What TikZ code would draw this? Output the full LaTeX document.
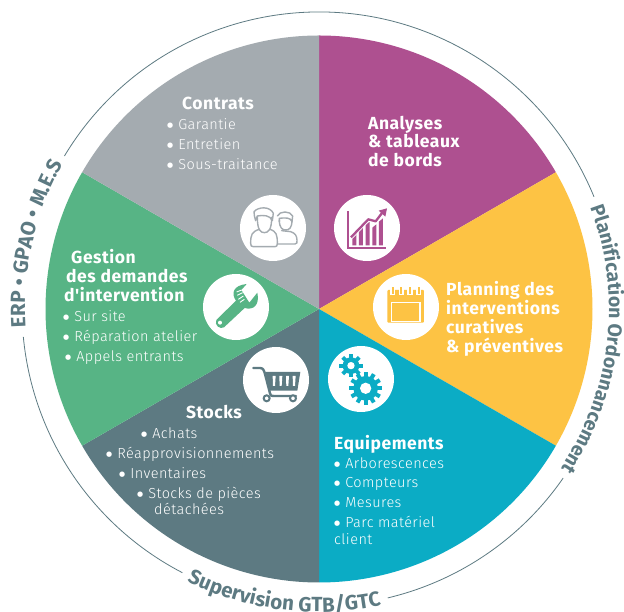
\documentclass[tikz,border=0pt]{standalone}
\usepackage{fontspec}
\setmainfont{Fira Sans}
\newfontfamily\hdf[LetterSpace=3]{Fira Sans}
\newfontfamily\itf[LetterSpace=3]{Fira Sans Light}
\newfontfamily\dotf{DejaVu Sans}
\usetikzlibrary{decorations.text}
\definecolor{cgray}{HTML}{A4ABB0}
\definecolor{cpurple}{HTML}{AE5090}
\definecolor{cyellow}{HTML}{FDC344}
\definecolor{cteal}{HTML}{0BACC5}
\definecolor{cslate}{HTML}{5D7A82}
\definecolor{cgreen}{HTML}{57B485}
\tikzset{
  head/.style={anchor=base west,inner sep=0pt,text=white,yshift=-1.5pt,font=\fontsize{17.5}{19}\hdf\bfseries},
  item/.style={anchor=base west,inner sep=0pt,text=white,yshift=-0.5pt,font=\fontsize{14.5}{16}\itf},
  iconbg/.style={circle,fill=white,minimum size=66pt,inner sep=0pt},
  ringline/.style={draw=cslate,line width=0.8pt},
  zoomed/.style 2 args={x=0.3333pt,y=-0.3333pt,shift={(#1*1pt,{(612-#2)*1pt})}},
}
\newcommand{\bul}{\raisebox{1.6pt}{\fontsize{7}{7}\dotf●}\hspace{5pt}}
\newcommand{\sector}[3]{\fill[#1] (319,303) -- ++(#2:273.5) arc[start angle=#2,end angle=#3,radius=273.5] -- cycle;}
\begin{document}
\begin{tikzpicture}[x=1pt,y=1pt]
\useasboundingbox (0,0) rectangle (624,612);
\fill[white] (0,0) rectangle (624,612);
% sectors
\sector{cpurple}{30}{90}
\sector{cyellow}{-30}{30}
\sector{cteal}{-90}{-30}
\sector{cslate}{-150}{-90}
\sector{cgreen}{150}{210}
\sector{cgray}{90}{150}
% outer ring
\draw[ringline] (319,303) ++(149:297) arc[start angle=149,end angle=22.2,radius=297];
\draw[ringline] (319,303) ++(-34.7:297) arc[start angle=-34.7,end angle=-76.6,radius=297];
\draw[ringline] (319,303) ++(242.6:297) arc[start angle=242.6,end angle=185.4,radius=297];
% curved labels
\path[decorate,decoration={text along path,text align=center,text color=cslate,
  text={|\fontsize{20.5}{18}\selectfont\bfseries|ERP  •  GPAO  •  M.E.S}}]
  (319,303) ++(186:294) arc[start angle=186,end angle=148,radius=294];
\path[decorate,decoration={text along path,text align=center,text color=cslate,
  text={|\fontsize{19.5}{18}\selectfont\bfseries|Planification Ordonnancement}}]
  (319,303) ++(22.5:290) arc[start angle=22.5,end angle=-35.5,radius=290];
\path[decorate,decoration={text along path,text align=center,text color=cslate,
  text={|\fontsize{20.5}{18}\selectfont\bfseries|Supervision GTB/GTC}}]
  (319,303) ++(242:303) arc[start angle=242,end angle=284,radius=303];
% texts
\node[head] (t1) at (182,{612-108}) {Contrats};
\node[item] (t1a) at (167,{612-129}) {\bul Garantie};
\node[item] (t1b) at (167,{612-149}) {\bul Entretien};
\node[item] (t1c) at (167,{612-169}) {\bul Sous-traitance};
\node[head] (t2a) at (368,{612-128}) {Analyses};
\node[head] (t2b) at (368,{612-146}) {\& tableaux};
\node[head] (t2c) at (368,{612-165}) {de bords};
\node[head] (t3a) at (446,{612-294}) {Planning des};
\node[head] (t3b) at (446,{612-313}) {interventions};
\node[head] (t3c) at (446,{612-332}) {curatives};
\node[head] (t3d) at (446,{612-351}) {\& préventives};
\node[head] (t4) at (334,{612-448}) {Equipements};
\node[item] (t4a) at (334,{612-468}) {\bul Arborescences};
\node[item] (t4b) at (334,{612-487}) {\bul Compteurs};
\node[item] (t4c) at (334,{612-507}) {\bul Mesures};
\node[item] (t4d) at (334,{612-527}) {\bul Parc matériel};
\node[item] (t4e) at (334,{612-544}) {client};
\node[head] (t5) at (186,{612-417}) {Stocks};
\node[item] (t5a) at (141,{612-438}) {\bul Achats};
\node[item] (t5b) at (106,{612-458}) {\bul Réapprovisionnements};
\node[item] (t5c) at (119,{612-478}) {\bul Inventaires};
\node[item] (t5d) at (137,{612-498}) {\bul Stocks de pièces};
\node[item] (t5e) at (154,{612-514}) {détachées};
\node[head] (t6a) at (71,{612-262}) {Gestion};
\node[head] (t6b) at (66,{612-281}) {des demandes};
\node[head] (t6c) at (64,{612-300}) {d'intervention};
\node[item] (t6d) at (63,{612-321}) {\bul Sur site};
\node[item] (t6e) at (63,{612-341}) {\bul Réparation atelier};
\node[item] (t6f) at (65,{612-361}) {\bul Appels entrants};
% icon discs
\node[iconbg] (i1) at (273,{612-228}) {};
\node[iconbg] (i2) at (367,{612-228}) {};
\node[iconbg] (i3) at (406,{612-307}) {};
\node[iconbg] (i4) at (236,{612-307}) {};
\node[iconbg] (i5) at (276,{612-380}) {};
\node[iconbg] (i6) at (361,{612-379}) {};
% people
\begin{scope}[zoomed={220}{180},draw=cgray,line width=1.4pt,line join=round,line cap=round]
  \draw (92,190) .. controls (92,165) and (95,155) .. (118,148) -- (150,148) .. controls (170,155) and (172,165) .. (172,190) .. controls (172,198) and (170,200) .. (165,200) -- (100,200) .. controls (94,200) and (92,198) .. (92,190);
  \draw[fill=white] (112,112) .. controls (112,150) and (122,158) .. (133,158) .. controls (145,158) and (155,150) .. (155,112);
  \draw (102,95) .. controls (115,80) and (150,78) .. (160,100) -- (157,122) .. controls (150,105) and (130,105) .. (112,108) -- (107,122) .. controls (104,112) and (102,105) .. (102,95);
  \draw (174,192) -- (225,192) .. controls (231,192) and (232,188) .. (231,180) .. controls (230,165) and (225,160) .. (212,155) -- (185,152);
  \draw[fill=white] (178,120) .. controls (178,145) and (188,150) .. (197,150) .. controls (207,150) and (216,145) .. (216,120);
  \draw (172,108) .. controls (180,92) and (210,92) .. (218,108) -- (216,125) .. controls (212,112) and (195,113) .. (178,115) -- (178,125);
\end{scope}
% chart
\begin{scope}[zoomed={220}{180},fill=cpurple,draw=cpurple]
  \fill (381,93) rectangle (388,207);
  \fill (381,200) rectangle (497,207);
  \foreach \xa/\ya in {397/170,417/150,437/135,457/143,477/125}{
    \fill (\xa,196) -- (\xa,\ya) -- ({\xa+12},{\ya-10}) -- ({\xa+12},196) -- cycle;
  }
  \draw[white,line width=4pt,line join=round] (393,172) -- (445,118) -- (467,124) -- (490,94);
  \draw[line width=2.3pt,line join=round] (393,172) -- (445,118) -- (467,124) -- (490,94);
  \fill (476,92) -- (501,85) -- (496,110) -- cycle;
\end{scope}
% calendar
\begin{scope}[zoomed={370}{270}]
  \fill[cyellow,rounded corners=1pt] (52,60) rectangle (162,158);
  \foreach \xa in {68,94,120,146}{
    \fill[white] ({\xa-8},58) rectangle ({\xa+8},74);
    \fill[cyellow] ({\xa-3},50) rectangle ({\xa+3},72);
  }
  \draw[white,line width=1.1pt] (65,98) rectangle (150,155);
\end{scope}
% wrench
\begin{scope}[zoomed={200}{270}]
  \fill[cgreen,line join=round] (49,150) -- (108,92) .. controls (92,70) and (100,46) .. (140,42) -- (124,60) -- (148,98) -- (172,68) .. controls (180,105) and (160,122) .. (134,114) -- (72,172) .. controls (60,180) and (42,165) .. (49,150) -- cycle;
  \fill[white] (60,158) circle (6);
  \draw[white,line width=0.9pt] (110,66) -- (125,60) (112,76) -- (128,68) (115,88) -- (130,78) (120,97) -- (133,88);
\end{scope}
% cart
\begin{scope}[zoomed={220}{180},draw=cslate,fill=cslate]
  \draw[line width=2.4pt,line cap=round,line join=round] (100,564) -- (120,564) .. controls (130,564) and (132,572) .. (135,582) -- (150,640) .. controls (150,648) and (155,648) .. (160,648) -- (228,648);
  \fill (136,576) -- (241,576) -- (232,632) -- (150,632) -- cycle;
  \foreach \xa in {158,178,198,218}{
    \fill[white] (\xa,588) -- ({\xa+9},588) -- ({\xa+7},618) -- ({\xa+1},618) -- cycle;
  }
  \draw[line width=2pt,fill=white] (140,655) circle (9);
  \draw[line width=2pt,fill=white] (219,655) circle (9);
\end{scope}
% gears
\begin{scope}[zoomed={220}{180},fill=cteal]
  \fill (393,557) circle (25);
  \foreach \a in {0,45,...,315}{
    \fill[rotate around={\a:(393,557)}] (387,522) rectangle (399,540);
  }
  \fill[white] (393,557) circle (11);
  \fill (437,625) circle (37);
  \foreach \a in {0,30,...,330}{
    \fill[rotate around={\a:(437,625)}] (431,576) rectangle (443,598);
  }
  \fill[white] (437,625) circle (17);
\end{scope}
\end{tikzpicture}
\end{document}
